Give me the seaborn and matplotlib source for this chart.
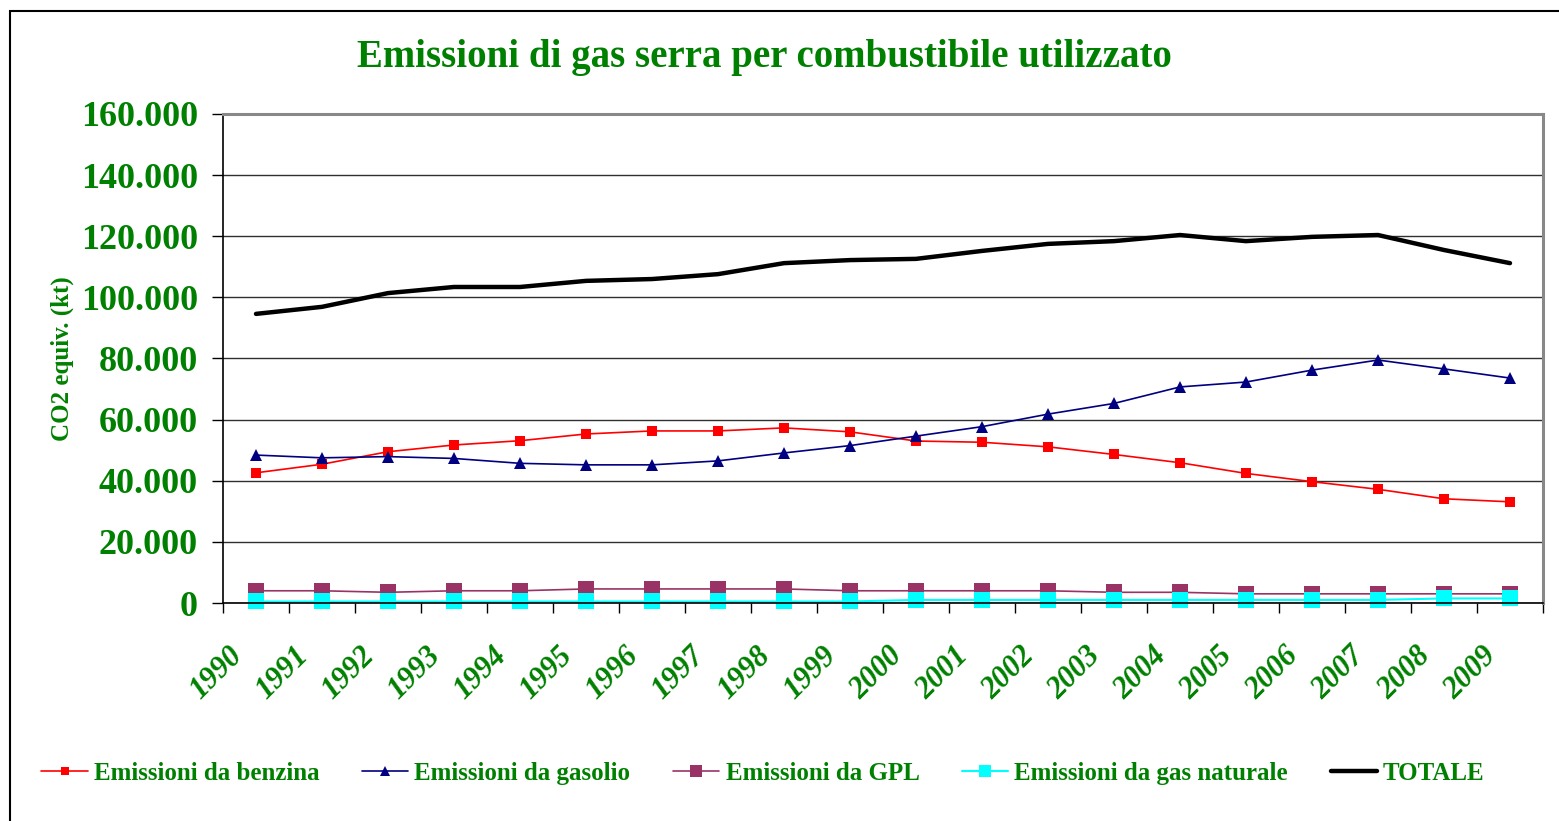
import pandas as pd
import matplotlib
matplotlib.use("Agg")
import matplotlib.pyplot as plt
import matplotlib.ticker as mticker
from matplotlib.patches import Rectangle
import seaborn as sns

# DATI (kt CO2 equiv.)
anni = [str(a) for a in range(1990, 2010)]
benzina = [42600, 45400, 49500, 51700, 53100, 55300, 56300, 56300, 57300, 56000,
           53000, 52600, 51100, 48600, 45900, 42400, 39700, 37200, 34100, 33100]
gasolio = [48400, 47500, 47900, 47300, 45700, 45200, 45200, 46500, 49100, 51500,
           54600, 57700, 61800, 65300, 70700, 72300, 76200, 79500, 76600, 73600]
gpl = [4000, 4000, 3500, 4000, 4000, 4600, 4600, 4600, 4600, 4000,
       4000, 4000, 4000, 3500, 3500, 3000, 3000, 3000, 3000, 3000]
gas_naturale = [500, 500, 500, 500, 500, 500, 500, 500, 500, 500,
                1000, 1000, 1000, 1000, 1000, 1000, 1000, 1000, 1500, 1500]
totale = [94600, 96900, 101400, 103400, 103400, 105400, 106000, 107600, 111200, 112200,
          112600, 115200, 117500, 118400, 120400, 118400, 119800, 120400, 115500, 111200]

df = pd.DataFrame({'Anno': anni, 'benzina': benzina, 'gasolio': gasolio,
                   'gpl': gpl, 'gas': gas_naturale, 'totale': totale})

sns.set_style("white")
plt.rcParams['font.family'] = ['Liberation Serif', 'DejaVu Serif']
verde = '#008000'

fig = plt.figure(figsize=(15.59, 8.21), dpi=100)
ax = fig.add_axes([223/1559, 1-603/821, (1543-223)/1559, (603-114)/821])

sns.lineplot(data=df, x='Anno', y='benzina', ax=ax, color='#FF0000', lw=1.2, clip_on=False,
             marker='s', markersize=6.5, markeredgewidth=0, label='Emissioni da benzina')
sns.lineplot(data=df, x='Anno', y='gasolio', ax=ax, color='#000080', lw=1.2, clip_on=False,
             marker='^', markersize=8, markeredgewidth=0, label='Emissioni da gasolio')
sns.lineplot(data=df, x='Anno', y='gpl', ax=ax, color='#993366', lw=1.2, clip_on=False,
             marker='s', markersize=11, markeredgewidth=0, label='Emissioni da GPL')
sns.lineplot(data=df, x='Anno', y='gas', ax=ax, color='#00FFFF', lw=1.5, clip_on=False,
             marker='s', markersize=11, markeredgewidth=0, label='Emissioni da gas naturale')
sns.lineplot(data=df, x='Anno', y='totale', ax=ax, color='black', lw=3.2,
             label='TOTALE')

ax.set_xlim(-0.5, len(anni) - 0.5)
ax.set_ylim(0, 160000)
ax.yaxis.set_major_locator(mticker.MultipleLocator(20000))
ax.yaxis.set_major_formatter(mticker.FuncFormatter(lambda v, p: f"{int(v):,}".replace(",", ".")))
ax.grid(axis='y', color='#303030', lw=1.0)
ax.set_axisbelow(True)

# tacche tra le categorie, etichette anni inclinate (spostate a sinistra come in Excel)
ax.set_xticks([i + 0.5 for i in range(-1, len(anni))], minor=True)
ax.set_xticks([i - 0.27 for i in range(len(anni))])
ax.set_xticklabels(anni, rotation=45, ha='right', va='center', rotation_mode='anchor',
                   fontsize=22, fontweight='bold', fontstyle='italic', color=verde)
ax.tick_params(axis='x', which='major', length=0, pad=35)
ax.tick_params(axis='x', which='minor', length=7, width=1, color='black', direction='out', bottom=True)
ax.tick_params(axis='y', length=8, width=1, color='black', direction='out', left=True,
               labelsize=26, labelcolor=verde, pad=10)
for lab in ax.get_yticklabels():
    lab.set_fontweight('bold')

for s in ['left', 'bottom']:
    ax.spines[s].set_color('black')
    ax.spines[s].set_linewidth(1.2)
for s in ['top', 'right']:
    ax.spines[s].set_color('#888888')
    ax.spines[s].set_linewidth(2.2)

ax.set_xlabel('')
ax.set_ylabel('CO2 equiv. (kt)', fontsize=18, fontweight='bold', color=verde, labelpad=5)

fig.text(764 / 1559, 1 - 58 / 821, 'Emissioni di gas serra per combustibile utilizzato',
         ha='center', va='center', fontsize=28, fontweight='bold', color=verde)

leg = ax.legend(loc='center', bbox_to_anchor=(763 / 1559, 1 - 773 / 821), bbox_transform=fig.transFigure,
                ncol=5, frameon=False, fontsize=18, handlelength=1.85, handletextpad=0.25,
                columnspacing=1.7, markerscale=0.85)
for t in leg.get_texts():
    t.set_color(verde)
    t.set_fontweight('bold')

fig.add_artist(Rectangle((10 / 1559, -0.1), 1.2, 1.1 - 11 / 821, transform=fig.transFigure,
                         fill=False, edgecolor='black', lw=1.5, clip_on=False))

plt.savefig('out.png', dpi=100)
